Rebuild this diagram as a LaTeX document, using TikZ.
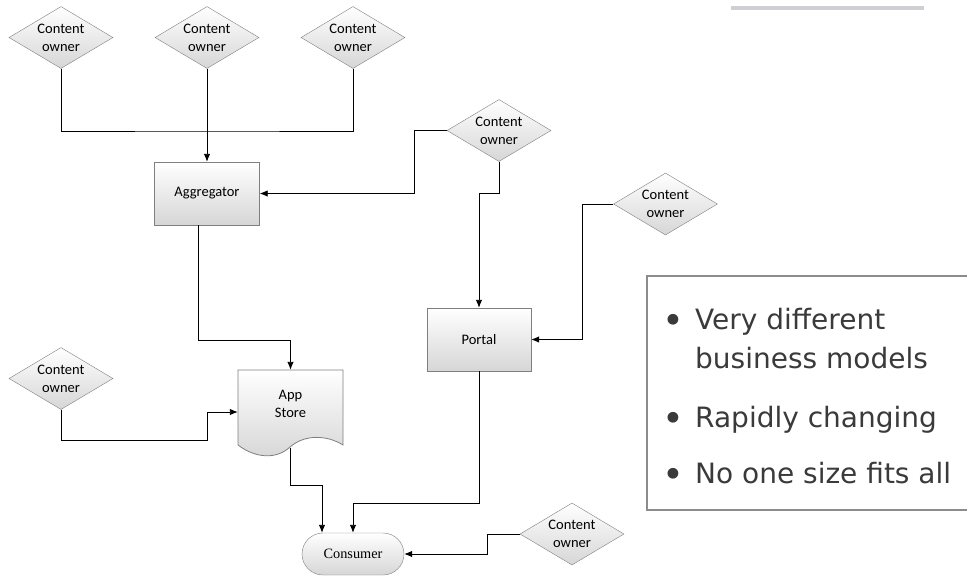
\documentclass[tikz,border=0pt]{standalone}
\usepackage{fontspec}
\setmainfont{Carlito}
\newfontfamily\consumerfont{Liberation Serif}
\newfontfamily\slidefont{DejaVu Sans}
\usetikzlibrary{arrows.meta,shapes.geometric}
\definecolor{edgegray}{HTML}{7F7F7F}
\definecolor{shadegray}{HTML}{D6D6D6}
\definecolor{slidetext}{HTML}{3A3A3A}
\definecolor{framegray}{HTML}{8C8C8C}
\definecolor{bargray}{HTML}{D0D0D4}

\begin{document}
\begin{tikzpicture}[x=1pt, y=-1pt, node distance={146pt},
    owner/.style = {draw=edgegray, diamond, aspect=1.68, inner sep=0pt, minimum width=104pt, minimum height=62pt, top color=white, bottom color=shadegray, align=center, font=\fontsize{14.5}{18}\selectfont},
    process/.style = {draw=edgegray, rectangle, inner sep=0pt, minimum width=105pt, minimum height=63pt, top color=white, bottom color=shadegray, font=\fontsize{14.5}{18}\selectfont},
    terminal/.style = {draw=edgegray, rectangle, rounded corners=21pt, minimum width=102pt, minimum height=42pt, top color=white, bottom color=shadegray, font=\consumerfont\fontsize{14.3}{17}\selectfont},
    feed/.style = {line width=0.9pt, -{Latex[length=8pt, width=6.5pt]}},
    dot/.style = {anchor=base, inner sep=0pt, text=slidetext, font=\slidefont\fontsize{37}{40}\selectfont},
    item/.style = {anchor=base west, inner sep=0pt, text=slidetext, font=\slidefont\fontsize{28}{34}\selectfont}]
    \useasboundingbox (0,0) rectangle (967,576);
    \fill[bargray] (731,6) rectangle (924,10);

    % content owners
    \node[owner] (co1) at (61,37.5) {Content\\owner};
    \node[owner] (co2) [right of=co1] {Content\\owner};
    \node[owner] (co3) [right of=co2] {Content\\owner};
    \node[owner] (co4) at (499,130.5) {Content\\owner};
    \node[owner] (co5) at (665.5,204) {Content\\owner};
    \node[owner] (co6) at (61,378.5) {Content\\owner};
    \node[owner] (co7) at (572,534) {Content\\owner};

    % channels
    \node[process] (agg) [below of=co2, node distance=156pt] {Aggregator};
    \node[process, minimum width=104pt] (portal) at (479,339.5) {Portal};
    \draw[edgegray, line width=0.8pt, top color=white, bottom color=shadegray]
      (238,370) -- (343,370) -- (343,445)
      .. controls (327,435) and (305,434) .. (290,447)
      .. controls (276,460) and (255,458) .. (238,445) -- cycle;
    \node[inner sep=0pt, minimum width=105pt, minimum height=78pt, text depth=11pt, align=center, font=\fontsize{14.5}{18}\selectfont] (store) at (290.5,409) {App\\Store};
    \node[terminal] (consumer) at (353,554) {Consumer};

    \coordinate (bus) at (207,131);
    \draw[line width=0.9pt] (co1.south) |- (bus) -| (co3.south);
    \draw[feed] (co2.south) -- (agg.north);
    \draw[feed] (co4.west) -- ++(-32,0) |- (agg.east);
    \draw[feed] (co4.south) -- ++(0,32) -| (portal.north);
    \draw[feed] (co5.west) -- ++(-31,0) |- (portal.east);
    \draw[feed] ([xshift=-8.5pt]agg.south) -- ++(0,115) -| (store.north);
    \draw[feed] (co6.south) |- ++(146,31) |- ([yshift=-3pt]store.west);
    \draw[feed] (store.south) -- ++(0,37) -| ([xshift=-31pt]consumer.north);
    \draw[feed] (portal.south) -- ++(0,132) -| (consumer.north);
    \draw[feed] (co7.west) -- ++(-32,0) |- (consumer.east);

    % bullet list
    \draw[framegray, line width=1.2pt] (967,276) -| (647,510) -- (967,510);
    \node[dot] (b1) at (673,333) {•};
    \node[item] (t1) at (695,329) {Very different};
    \node[item] (t1b) at (695,368) {business models};
    \node[dot] (b2) at (673,431) {•};
    \node[item] (t2) at (695,427) {Rapidly changing};
    \node[dot] (b3) at (673,487) {•};
    \node[item] (t3) at (695,483) {No one size fits all};
\end{tikzpicture}
\end{document}
